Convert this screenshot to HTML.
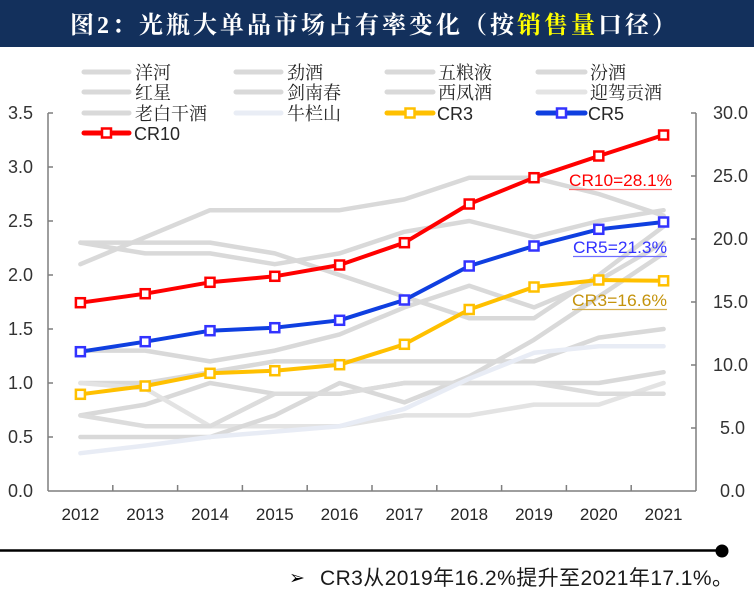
<!DOCTYPE html>
<html><head><meta charset="utf-8">
<style>
html,body{margin:0;padding:0;background:#fff;}
svg{display:block;}
.cjk{font-family:"Liberation Serif","Noto Serif CJK SC",serif;}
.sans{font-family:"Liberation Sans","Noto Sans CJK SC",sans-serif;}
</style></head>
<body>
<svg width="754" height="599" viewBox="0 0 754 599" xmlns="http://www.w3.org/2000/svg">
<rect x="0" y="0" width="754" height="599" fill="#ffffff"/>
<!-- title bar -->
<rect x="0" y="0" width="754" height="47" fill="#13305c"/>
<text x="373" y="33" text-anchor="middle" textLength="606" lengthAdjust="spacing" font-size="24" font-weight="bold" fill="#ffffff" style="font-family:'Liberation Serif','Noto Serif CJK SC',serif;">图2：光瓶大单品市场占有率变化（按<tspan fill="#ffff00">销售量</tspan>口径）</text>

<!-- legend -->
<g stroke-width="5" stroke-linecap="round" fill="none">
<line x1="84" y1="72" x2="129" y2="72" stroke="#d9d9d9"/>
<line x1="236" y1="72" x2="281" y2="72" stroke="#d9d9d9"/>
<line x1="387" y1="72" x2="433" y2="72" stroke="#d9d9d9"/>
<line x1="538" y1="72" x2="585" y2="72" stroke="#d9d9d9"/>
<line x1="84" y1="92" x2="129" y2="92" stroke="#d9d9d9"/>
<line x1="236" y1="92" x2="281" y2="92" stroke="#d9d9d9"/>
<line x1="387" y1="92" x2="433" y2="92" stroke="#d9d9d9"/>
<line x1="538" y1="92" x2="585" y2="92" stroke="#e4e4e4"/>
<line x1="84" y1="113" x2="129" y2="113" stroke="#d9d9d9"/>
<line x1="236" y1="113" x2="281" y2="113" stroke="#e9edf5"/>
<line x1="387" y1="113" x2="433" y2="113" stroke="#ffc000"/>
<line x1="538" y1="113" x2="585" y2="113" stroke="#0f3fe0"/>
<line x1="84" y1="133" x2="129" y2="133" stroke="#ff0000"/>
</g>
<g fill="#ffffff" stroke-width="2.5">
<rect x="405.5" y="108.5" width="9" height="9" stroke="#ffc000"/>
<rect x="557" y="108.5" width="9" height="9" stroke="#3333ff"/>
<rect x="102" y="128.5" width="9" height="9" stroke="#ff0000"/>
</g>
<g class="cjk" font-size="18" fill="#262626">
<text x="135" y="79">洋河</text>
<text x="287" y="79">劲酒</text>
<text x="438" y="79">五粮液</text>
<text x="590" y="79">汾酒</text>
<text x="135" y="99">红星</text>
<text x="287" y="99">剑南春</text>
<text x="438" y="99">西凤酒</text>
<text x="590" y="99">迎驾贡酒</text>
<text x="135" y="120">老白干酒</text>
<text x="287" y="120">牛栏山</text>
</g>
<g class="sans" font-size="18" fill="#262626">
<text x="437" y="120">CR3</text>
<text x="588" y="120">CR5</text>
<text x="134" y="140">CR10</text>
</g>

<!-- axes -->
<g stroke="#7f7f7f" stroke-width="1.5" fill="none">
<line x1="48" y1="113" x2="48" y2="491"/>
<line x1="48" y1="491" x2="696" y2="491"/>
<line x1="696" y1="113" x2="696" y2="491"/>
<path d="M48 113h5M48 167h5M48 221h5M48 275h5M48 329h5M48 383h5M48 437h5"/>
<path d="M696 113h-5M696 176h-5M696 239h-5M696 302h-5M696 365h-5M696 428h-5"/>
<path d="M112.8 491v-6M177.6 491v-6M242.4 491v-6M307.2 491v-6M372 491v-6M436.8 491v-6M501.6 491v-6M566.4 491v-6M631.2 491v-6"/>
</g>
<g class="sans" font-size="18" fill="#333333" text-anchor="end">
<text x="33" y="119">3.5</text>
<text x="33" y="173">3.0</text>
<text x="33" y="227">2.5</text>
<text x="33" y="281">2.0</text>
<text x="33" y="335">1.5</text>
<text x="33" y="389">1.0</text>
<text x="33" y="443">0.5</text>
<text x="33" y="497">0.0</text>
</g>
<g class="sans" font-size="18" fill="#333333">
<text x="713" y="119">30.0</text>
<text x="713" y="182">25.0</text>
<text x="713" y="245">20.0</text>
<text x="713" y="308">15.0</text>
<text x="713" y="371">10.0</text>
<text x="720" y="434">5.0</text>
<text x="720" y="497">0.0</text>
</g>
<g class="sans" font-size="17" fill="#262626" text-anchor="middle">
<text x="80.4" y="520">2012</text>
<text x="145.2" y="520">2013</text>
<text x="210" y="520">2014</text>
<text x="274.8" y="520">2015</text>
<text x="339.6" y="520">2016</text>
<text x="404.4" y="520">2017</text>
<text x="469.2" y="520">2018</text>
<text x="534" y="520">2019</text>
<text x="598.8" y="520">2020</text>
<text x="663.6" y="520">2021</text>
</g>

<!-- gray series -->
<g fill="none" stroke-width="4.5" stroke-linejoin="round" stroke-linecap="round">
<polyline stroke="#d9d9d9" points="80.4,264.2 145.2,237.2 210,210.2 274.8,210.2 339.6,210.2 404.4,199.4 469.2,177.8 534,177.8 598.8,194 663.6,215.6"/>
<polyline stroke="#d9d9d9" points="80.4,242.6 145.2,242.6 210,242.6 274.8,253.4 339.6,275 404.4,296.6 469.2,318.2 534,318.2 598.8,275 663.6,226.4"/>
<polyline stroke="#d9d9d9" points="80.4,242.6 145.2,253.4 210,253.4 274.8,264.2 339.6,253.4 404.4,231.8 469.2,221 534,237.2 598.8,221 663.6,210.2"/>
<polyline stroke="#d9d9d9" points="80.4,350.6 145.2,350.6 210,361.4 274.8,350.6 339.6,334.4 404.4,307.4 469.2,285.8 534,307.4 598.8,280.4 663.6,242.6"/>
<polyline stroke="#d9d9d9" points="80.4,383 145.2,383 210,372.2 274.8,361.4 339.6,361.4 404.4,361.4 469.2,361.4 534,361.4 598.8,337.6 663.6,329"/>
<polyline stroke="#d9d9d9" points="80.4,415.4 145.2,404.6 210,383 274.8,393.8 339.6,393.8 404.4,383 469.2,383 534,383 598.8,383 663.6,372.2"/>
<polyline stroke="#e3e3e3" points="80.4,383 145.2,388.4 210,426.2 274.8,426.2 339.6,426.2 404.4,415.4 469.2,415.4 534,404.6 598.8,404.6 663.6,383"/>
<polyline stroke="#d9d9d9" points="80.4,437 145.2,437 210,437 274.8,415.4 339.6,383 404.4,402.4 469.2,376.5 534,339.8 598.8,296.6 663.6,253.4"/>
<polyline stroke="#dcdcdc" points="80.4,415.4 145.2,426.2 210,426.2 274.8,393.8 339.6,393.8 404.4,383 469.2,383 534,383 598.8,393.8 663.6,393.8"/>
<polyline stroke="#e8ecf5" points="80.4,453.2 145.2,445.6 210,437 274.8,431.6 339.6,426.2 404.4,408.9 469.2,378.7 534,352.8 598.8,346.3 663.6,346.3"/>
</g>

<!-- CR series -->
<g fill="none" stroke-width="4" stroke-linejoin="round" stroke-linecap="round">
<polyline stroke="#ffc000" points="80.4,394.3 145.2,386 210,373.3 274.8,370.7 339.6,364.7 404.4,344.3 469.2,309.5 534,287 598.8,280 663.6,280.8"/>
<polyline stroke="#0f3fe0" points="80.4,351.7 145.2,341.7 210,330.7 274.8,327.7 339.6,320.3 404.4,300 469.2,266 534,246 598.8,229.3 663.6,222"/>
<polyline stroke="#ff0000" points="80.4,302.7 145.2,293.7 210,282.3 274.8,276.3 339.6,265 404.4,242.7 469.2,204 534,177.7 598.8,156 663.6,135"/>
</g>
<g fill="#ffffff" stroke-width="2.5" stroke="#ffc000">
<rect x="75.9" y="389.8" width="9" height="9"/>
<rect x="140.7" y="381.5" width="9" height="9"/>
<rect x="205.5" y="368.8" width="9" height="9"/>
<rect x="270.3" y="366.2" width="9" height="9"/>
<rect x="335.1" y="360.2" width="9" height="9"/>
<rect x="399.9" y="339.8" width="9" height="9"/>
<rect x="464.7" y="305" width="9" height="9"/>
<rect x="529.5" y="282.5" width="9" height="9"/>
<rect x="594.3" y="275.5" width="9" height="9"/>
<rect x="659.1" y="276.3" width="9" height="9"/>
</g>
<g fill="#ffffff" stroke-width="2.5" stroke="#3333ff">
<rect x="75.9" y="347.2" width="9" height="9"/>
<rect x="140.7" y="337.2" width="9" height="9"/>
<rect x="205.5" y="326.2" width="9" height="9"/>
<rect x="270.3" y="323.2" width="9" height="9"/>
<rect x="335.1" y="315.8" width="9" height="9"/>
<rect x="399.9" y="295.5" width="9" height="9"/>
<rect x="464.7" y="261.5" width="9" height="9"/>
<rect x="529.5" y="241.5" width="9" height="9"/>
<rect x="594.3" y="224.8" width="9" height="9"/>
<rect x="659.1" y="217.5" width="9" height="9"/>
</g>
<g fill="#ffffff" stroke-width="2.5" stroke="#ff0000">
<rect x="75.9" y="298.2" width="9" height="9"/>
<rect x="140.7" y="289.2" width="9" height="9"/>
<rect x="205.5" y="277.8" width="9" height="9"/>
<rect x="270.3" y="271.8" width="9" height="9"/>
<rect x="335.1" y="260.5" width="9" height="9"/>
<rect x="399.9" y="238.2" width="9" height="9"/>
<rect x="464.7" y="199.5" width="9" height="9"/>
<rect x="529.5" y="173.2" width="9" height="9"/>
<rect x="594.3" y="151.5" width="9" height="9"/>
<rect x="659.1" y="130.5" width="9" height="9"/>
</g>

<!-- value labels -->
<g class="sans" font-size="17">
<text x="569" y="186" fill="#ff0000" textLength="103" lengthAdjust="spacingAndGlyphs">CR10=28.1%</text>
<line x1="569" y1="189.5" x2="672" y2="189.5" stroke="#ff7070" stroke-width="1.2"/>
<text x="573" y="253" fill="#3333ff" textLength="94" lengthAdjust="spacingAndGlyphs">CR5=21.3%</text>
<line x1="573" y1="256.5" x2="667" y2="256.5" stroke="#6f6fff" stroke-width="1.2"/>
<text x="572" y="306" fill="#c4930c" textLength="95" lengthAdjust="spacingAndGlyphs">CR3=16.6%</text>
<line x1="572" y1="309.5" x2="667" y2="309.5" stroke="#d6b050" stroke-width="1.2"/>
</g>

<!-- bottom rule & note -->
<line x1="0" y1="550.5" x2="722" y2="550.5" stroke="#000000" stroke-width="2.5"/>
<circle cx="722" cy="551" r="6.5" fill="#000000"/>
<text x="289" y="584" font-size="19" font-weight="bold" fill="#000000" style="font-family:'DejaVu Sans',sans-serif;">➢</text>
<text x="320" y="585" font-size="21" fill="#1a1a1a" textLength="413" lengthAdjust="spacing" style="font-family:'Liberation Sans','Noto Sans CJK SC',sans-serif;">CR3从2019年16.2%提升至2021年17.1%。</text>
</svg>
</body></html>
